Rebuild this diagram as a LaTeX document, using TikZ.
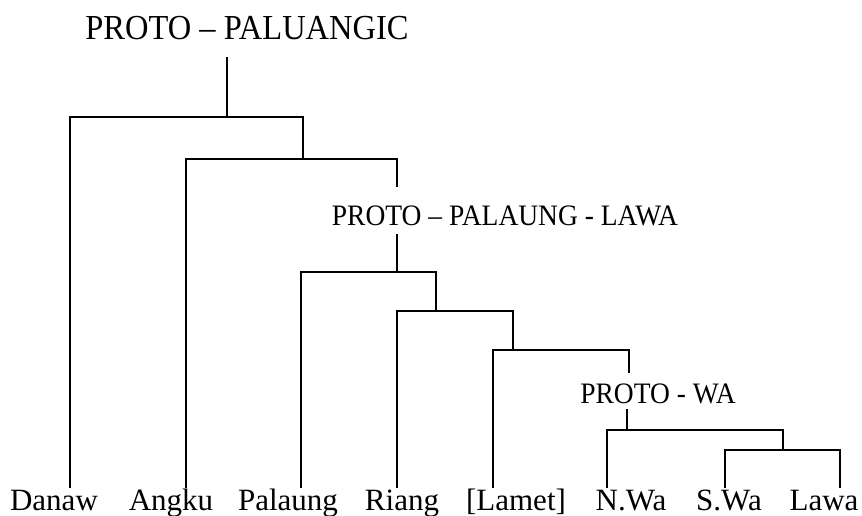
\documentclass[tikz,border=0pt]{standalone}
\usepackage{fontspec}
\setmainfont{Liberation Serif}
\newcommand{\tallcaps}[1]{\scalebox{1}[1.08]{#1}}
\tikzset{
  branch/.style={line width=1.6pt, line cap=rect},
  toplab/.style={anchor=base, inner sep=0pt, font=\fontsize{32.5}{36}\selectfont},
  midlab/.style={anchor=base, inner sep=0pt, font=\fontsize{27.5}{31}\selectfont},
  leaflab/.style={anchor=base, inner sep=0pt, font=\fontsize{31}{34}\selectfont}
}
\begin{document}
\begin{tikzpicture}[x=1pt, y=-1pt]
\useasboundingbox (0,0) rectangle (862,516);

% proto-language labels
\node[toplab] (pp)  at (247,40)  {\tallcaps{PROTO – PALUANGIC}};
\node[midlab] (ppl) at (505,225) {\tallcaps{PROTO – PALAUNG - LAWA}};
\node[midlab] (pw)  at (658,403) {\tallcaps{PROTO - WA}};

% daughter languages
\node[leaflab] (danaw)   at (54,510)  {Danaw};
\node[leaflab] (angku)   at (171,510) {Angku};
\node[leaflab] (palaung) at (288,510) {Palaung};
\node[leaflab] (riang)   at (402,510) {Riang};
\node[leaflab] (lamet)   at (516,510) {[Lamet]};
\node[leaflab] (nwa)     at (631,510) {N.Wa};
\node[leaflab] (swa)     at (729,510) {S.Wa};
\node[leaflab] (lawa)    at (824,510) {Lawa};

% lower ends of the leaf branches
\coordinate (danaw-e)   at (70,487);
\coordinate (angku-e)   at (186,487);
\coordinate (palaung-e) at (301,487);
\coordinate (riang-e)   at (397,487);
\coordinate (lamet-e)   at (493,487);
\coordinate (nwa-e)     at (607,487);
\coordinate (swa-e)     at (725,487);
\coordinate (lawa-e)    at (840,487);

% branching points
\coordinate (root-top) at (227,58);
\coordinate (root)     at (227,117);
\coordinate (n1)       at (303,159);
\coordinate (ppl-up)   at (397,186);
\coordinate (ppl-dn)   at (397,235);
\coordinate (n2)       at (397,272);
\coordinate (n3)       at (436,311);
\coordinate (n4)       at (513,350);
\coordinate (pw-up)    at (629,372);
\coordinate (pw-dn)    at (627,410);
\coordinate (n5)       at (627,430);
\coordinate (n6)       at (783,450);

% tree
\draw[branch] (root-top) -- (root);
\draw[branch] (danaw-e) |- (root) -| (n1);
\draw[branch] (angku-e) |- (n1) -| (ppl-up);
\draw[branch] (ppl-dn) -- (n2);
\draw[branch] (palaung-e) |- (n2) -| (n3);
\draw[branch] (riang-e) |- (n3) -| (n4);
\draw[branch] (lamet-e) |- (n4) -| (pw-up);
\draw[branch] (pw-dn) -- (n5);
\draw[branch] (nwa-e) |- (n5) -| (n6);
\draw[branch] (swa-e) |- (n6) -| (lawa-e);
\end{tikzpicture}
\end{document}
